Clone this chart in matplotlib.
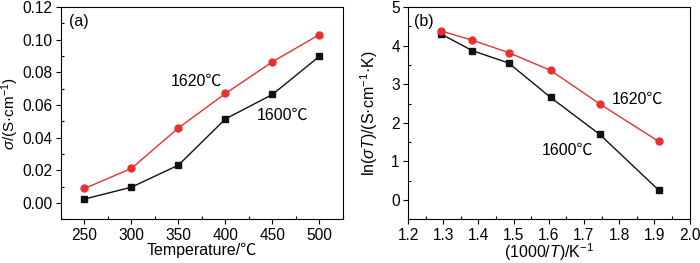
import matplotlib
matplotlib.use('Agg')
import matplotlib.pyplot as plt
from matplotlib.ticker import MultipleLocator, FormatStrFormatter

plt.rcParams['font.family'] = ['Liberation Sans', 'Noto Sans CJK SC', 'DejaVu Sans']
plt.rcParams['mathtext.fontset'] = 'custom'
plt.rcParams['mathtext.rm'] = 'Liberation Sans'
plt.rcParams['mathtext.it'] = 'Liberation Sans:italic'
plt.rcParams['font.size'] = 11

# panel (a): conductivity vs temperature
temp_c = [250, 300, 350, 400, 450, 500]
sigma_1620 = [0.0089, 0.0212, 0.0460, 0.0671, 0.0865, 0.1032]
sigma_1600 = [0.0024, 0.0097, 0.0232, 0.0515, 0.0665, 0.0899]

# panel (b): Arrhenius plot
inv_t = [1.294, 1.383, 1.486, 1.605, 1.745, 1.912]
ln_1620 = [4.38, 4.14, 3.82, 3.36, 2.49, 1.52]
ln_1600 = [4.30, 3.87, 3.55, 2.66, 1.70, 0.26]

RED = '#e8312f'
BLACK = '#111111'


def style_axes(ax):
    ax.tick_params(which='major', direction='out', length=3.5, width=0.8, labelsize=11.2,
                   top=False, right=False, pad=2.5)
    ax.tick_params(which='minor', direction='in', length=2.5, width=0.8,
                   top=False, right=False)
    for s in ax.spines.values():
        s.set_linewidth(0.8)


fig = plt.figure(figsize=(7.0, 2.63), dpi=100)

ax1 = fig.add_axes([0.087, 0.166, 0.403, 0.807])
ax1.plot(temp_c, sigma_1600, '-s', color=BLACK, lw=1, ms=4.5)
ax1.plot(temp_c, sigma_1620, '-o', color=RED, lw=1, ms=5)
ax1.set_xlim(225, 525)
ax1.set_ylim(-0.01, 0.12)
ax1.xaxis.set_major_locator(MultipleLocator(50))
ax1.xaxis.set_minor_locator(MultipleLocator(25))
ax1.yaxis.set_major_locator(MultipleLocator(0.02))
ax1.yaxis.set_minor_locator(MultipleLocator(0.01))
ax1.yaxis.set_major_formatter(FormatStrFormatter('%.2f'))
style_axes(ax1)
ax1.set_xlabel('Temperature/℃', fontsize=11.5, labelpad=0)
ax1.set_ylabel(r'$\sigma$/(S·cm$^{-1}$)', fontsize=11)
ax1.yaxis.set_label_coords(-0.14, 0.5)
ax1.text(0.03, 0.93, '(a)', transform=ax1.transAxes, fontsize=11.5, va='center')
ax1.text(396, 0.0745, '1620℃', fontsize=11.5, ha='right', va='center')
ax1.text(433, 0.0535, '1600℃', fontsize=11.5, ha='left', va='center')

ax2 = fig.add_axes([0.583, 0.166, 0.402, 0.807])
ax2.plot(inv_t, ln_1600, '-s', color=BLACK, lw=1, ms=4.5)
ax2.plot(inv_t, ln_1620, '-o', color=RED, lw=1, ms=5)
ax2.set_xlim(1.2, 2.0)
ax2.set_ylim(-0.5, 5)
ax2.xaxis.set_major_locator(MultipleLocator(0.1))
ax2.xaxis.set_minor_locator(MultipleLocator(0.05))
ax2.yaxis.set_major_locator(MultipleLocator(1))
ax2.yaxis.set_minor_locator(MultipleLocator(0.5))
ax2.xaxis.set_major_formatter(FormatStrFormatter('%.1f'))
style_axes(ax2)
ax2.set_xlabel(r'(1000/$T$)/K$^{-1}$', fontsize=11.5, labelpad=-1)
ax2.set_ylabel(r'ln($\sigma T$)/(S·cm$^{-1}$·K)', fontsize=11.5)
ax2.yaxis.set_label_coords(-0.1, 0.5)
ax2.text(0.02, 0.93, '(b)', transform=ax2.transAxes, fontsize=11.5, va='center')
ax2.text(1.78, 2.62, '1620℃', fontsize=11.5, ha='left', va='center')
ax2.text(1.58, 1.3, '1600℃', fontsize=11.5, ha='left', va='center')

fig.savefig('out.png', dpi=100)
